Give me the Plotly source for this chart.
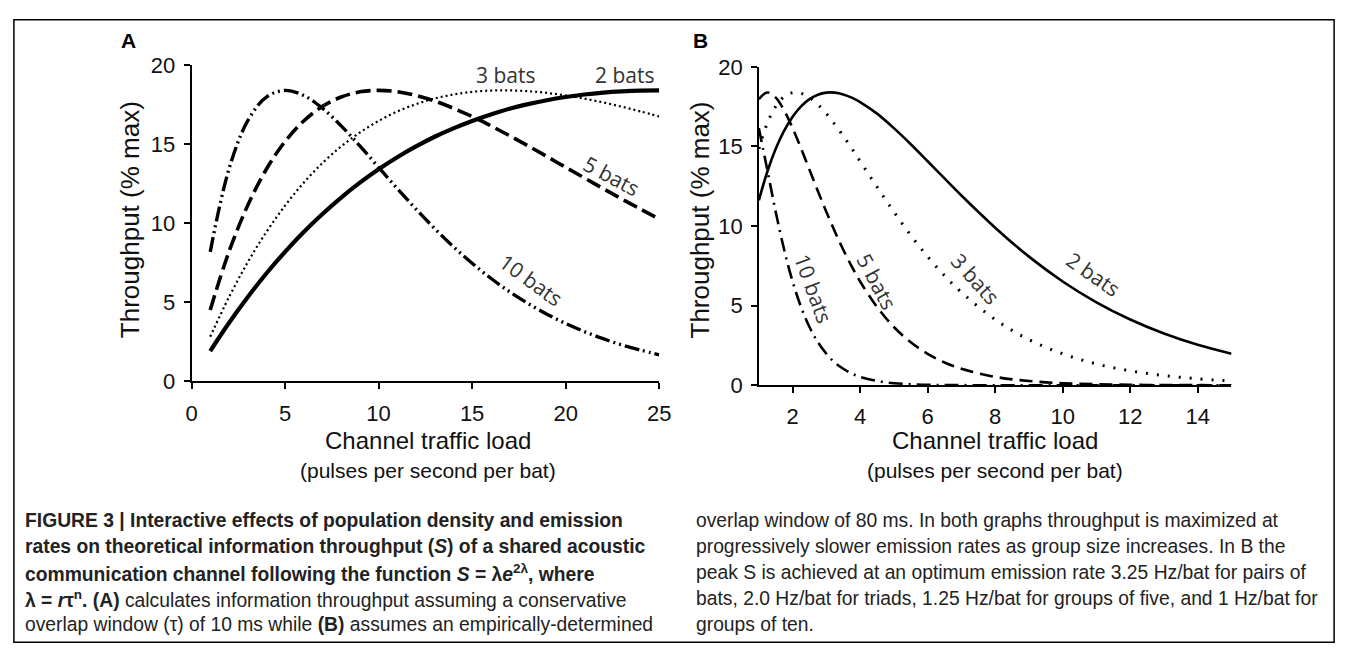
import plotly.graph_objects as go

W, H = 1354, 660

# ---------------- data ----------------
# Panel A: channel traffic load (pulses/s/bat) and throughput (% max)
load_a = [1, 2, 3, 4, 5, 6, 7, 8, 9, 10, 11, 12, 13, 14, 15, 16, 17, 18, 19, 20, 21, 22, 23, 24, 25]
a_2bats = [1.92, 3.69, 5.32, 6.82, 8.19, 9.44, 10.58, 11.62, 12.56, 13.41, 14.17, 14.85, 15.46,
           15.99, 16.46, 16.87, 17.23, 17.52, 17.77, 17.97, 18.13, 18.25, 18.33, 18.38, 18.39]
a_3bats = [2.83, 5.32, 7.52, 9.44, 11.11, 12.56, 13.80, 14.85, 15.73, 16.46, 17.06, 17.52, 17.88,
           18.13, 18.30, 18.38, 18.39, 18.34, 18.23, 18.07, 17.87, 17.63, 17.36, 17.06, 16.74]
a_5bats = [4.52, 8.19, 11.11, 13.41, 15.16, 16.46, 17.38, 17.97, 18.30, 18.39, 18.31, 18.07, 17.72,
           17.26, 16.74, 16.15, 15.53, 14.88, 14.21, 13.53, 12.86, 12.19, 11.53, 10.89, 10.26]
a_10bats = [8.19, 13.41, 16.46, 17.97, 18.39, 18.07, 17.26, 16.15, 14.88, 13.53, 12.19, 10.89, 9.66,
            8.51, 7.47, 6.52, 5.67, 4.92, 4.25, 3.66, 3.15, 2.70, 2.31, 1.98, 1.68]

# Panel B
load_b = [1, 1.25, 1.5, 1.75, 2, 2.25, 2.5, 2.75, 3, 3.25, 3.5, 3.75, 4, 4.5, 5, 5.5, 6, 6.5, 7,
          8, 9, 10, 11, 12, 13, 14, 15]
b_2bats = [11.62, 13.41, 14.85, 15.99, 16.87, 17.52, 17.97, 18.25, 18.38, 18.38, 18.27, 18.07, 17.79,
           17.06, 16.15, 15.14, 14.07, 12.99, 11.92, 9.90, 8.08, 6.52, 5.21, 4.13, 3.25, 2.54, 1.98]
b_3bats = [14.85, 16.46, 17.52, 18.13, 18.38, 18.34, 18.07, 17.63, 17.06, 16.39, 15.66, 14.88, 14.07,
           12.46, 10.89, 9.42, 8.08, 6.89, 5.84, 4.13, 2.87, 1.98, 1.34, 0.91, 0.61, 0.41, 0.27]
b_5bats = [17.97, 18.39, 18.07, 17.26, 16.15, 14.88, 13.53, 12.19, 10.89, 9.66, 8.51, 7.47, 6.52,
           4.92, 3.66, 2.70, 1.98, 1.43, 1.04, 0.53, 0.27, 0.13, 0.07, 0.03, 0.02, 0.01, 0.0]
b_10bats = [16.15, 13.53, 10.89, 8.51, 6.52, 4.92, 3.66, 2.70, 1.98, 1.43, 1.04, 0.74, 0.53,
            0.27, 0.13, 0.07, 0.03, 0.02, 0.01, 0.0, 0.0, 0.0, 0.0, 0.0, 0.0, 0.0, 0.0]

ticks_a = [0, 5, 10, 15, 20, 25]
ticks_b = [2, 4, 6, 8, 10, 12, 14]
ticks_y = [0, 5, 10, 15, 20]

y_title = "Throughput (% max)"
x_title = "Channel traffic load"
x_sub = "(pulses per second per bat)"

caption_left = [
    "<b>FIGURE 3 | Interactive effects of population density and emission</b>",
    "<b>rates on theoretical information throughput (<i>S</i>) of a shared acoustic</b>",
    "<b>communication channel following the function <i>S</i> = λ<i>e</i><sup>2λ</sup>, where</b>",
    "<b>λ = <i>r</i>τ<sup>n</sup>. (A)</b> calculates information throughput assuming a conservative",
    "overlap window (τ) of 10 ms while <b>(B)</b> assumes an empirically-determined",
]
caption_right = [
    "overlap window of 80 ms. In both graphs throughput is maximized at",
    "progressively slower emission rates as group size increases. In B the",
    "peak S is achieved at an optimum emission rate 3.25 Hz/bat for pairs of",
    "bats, 2.0 Hz/bat for triads, 1.25 Hz/bat for groups of five, and 1 Hz/bat for",
    "groups of ten.",
]

# ---------------- helpers ----------------
def px(x):
    return x / W

def py(y):
    return 1 - y / H

TICKFONT = dict(family="Liberation Sans, Arial, sans-serif", size=22, color="#111")
LABELFONT = dict(family="Open Sans, sans-serif", size=21, color="#333")

fig = go.Figure()

# Panel A traces
fig.add_trace(go.Scatter(x=load_a, y=a_2bats, mode="lines", line=dict(color="black", width=4.2, shape="spline"),
                         xaxis="x", yaxis="y", name="2 bats"))
fig.add_trace(go.Scatter(x=load_a, y=a_3bats, mode="lines",
                         line=dict(color="black", width=2.2, dash="2px,3px", shape="spline"),
                         xaxis="x", yaxis="y", name="3 bats"))
fig.add_trace(go.Scatter(x=load_a, y=a_5bats, mode="lines",
                         line=dict(color="black", width=3.6, dash="15px,6px", shape="spline"),
                         xaxis="x", yaxis="y", name="5 bats"))
fig.add_trace(go.Scatter(x=load_a, y=a_10bats, mode="lines",
                         line=dict(color="black", width=3.4, dash="15px,4px,2px,4px,2px,4px", shape="spline"),
                         xaxis="x", yaxis="y", name="10 bats"))

# Panel B traces
fig.add_trace(go.Scatter(x=load_b, y=b_2bats, mode="lines", line=dict(color="black", width=2.6, shape="spline"),
                         xaxis="x2", yaxis="y2", name="2 bats"))
fig.add_trace(go.Scatter(x=load_b, y=b_3bats, mode="lines",
                         line=dict(color="black", width=3, dash="2px,9px", shape="spline"),
                         xaxis="x2", yaxis="y2", name="3 bats"))
fig.add_trace(go.Scatter(x=load_b, y=b_5bats, mode="lines",
                         line=dict(color="black", width=2.6, dash="13px,7px", shape="spline"),
                         xaxis="x2", yaxis="y2", name="5 bats"))
fig.add_trace(go.Scatter(x=load_b, y=b_10bats, mode="lines",
                         line=dict(color="black", width=2.6, dash="14px,6px,2px,6px", shape="spline"),
                         xaxis="x2", yaxis="y2", name="10 bats"))

axis_common = dict(showgrid=False, zeroline=False, showline=True, linecolor="black", linewidth=1.6,
                   ticks="outside", ticklen=6, tickwidth=1.6, tickcolor="black", tickfont=TICKFONT)

fig.update_layout(
    width=W, height=H,
    margin=dict(l=0, r=0, t=0, b=0),
    paper_bgcolor="white", plot_bgcolor="white",
    showlegend=False,
    xaxis=dict(domain=[px(188), px(662)], range=[0, 25], tickvals=ticks_a, anchor="y",
               ticklabelstandoff=5, **axis_common),
    yaxis=dict(domain=[py(384), py(55)], range=[0, 20], tickvals=ticks_y, anchor="x",
               ticklabelstandoff=4, **axis_common),
    xaxis2=dict(domain=[px(763), px(1242)], range=[1, 15], tickvals=ticks_b, anchor="y2",
                ticklabelstandoff=4, **axis_common),
    yaxis2=dict(domain=[py(388), py(57)], range=[0, 20], tickvals=ticks_y, anchor="x2",
                ticklabelstandoff=4, **axis_common),
)

ann = []
def add_text(x, y, text, font, angle=0, xanchor="center", yanchor="middle"):
    ann.append(dict(x=px(x), y=py(y), xref="paper", yref="paper", text=text, showarrow=False,
                    font=font, textangle=angle, xanchor=xanchor, yanchor=yanchor))

PANELFONT = dict(family="Liberation Sans, Arial, sans-serif", size=21, color="black")
TITLEFONT = dict(family="Liberation Sans, Arial, sans-serif", size=24, color="#111")
YTITLEFONT = dict(family="Liberation Sans, Arial, sans-serif", size=26, color="#111")
SUBFONT = dict(family="Liberation Sans, Arial, sans-serif", size=21, color="#111")

add_text(124, 30, "<b>A</b>", PANELFONT)
add_text(704, 30, "<b>B</b>", PANELFONT)
add_text(125, 216, y_title, YTITLEFONT, angle=-90)
add_text(703, 216, y_title, YTITLEFONT, angle=-90)
add_text(428, 445, x_title, TITLEFONT)
add_text(428, 477, x_sub, SUBFONT)
add_text(1002, 445, x_title, TITLEFONT)
add_text(1002, 477, x_sub, SUBFONT)

# curve labels
add_text(506, 65, "3 bats", LABELFONT)
add_text(627, 65, "2 bats", LABELFONT)
add_text(614, 170, "5 bats", LABELFONT, angle=28)
add_text(532, 279, "10 bats", LABELFONT, angle=36)
add_text(818, 287, "10 bats", LABELFONT, angle=70)
add_text(882, 280, "5 bats", LABELFONT, angle=62)
add_text(983, 277, "3 bats", LABELFONT, angle=48)
add_text(1102, 272, "2 bats", LABELFONT, angle=35)

CAPFONT = dict(family="Liberation Sans Narrow, Arial Narrow, Liberation Sans, sans-serif", size=19.3, color="#222")
line_y = [529, 556, 583, 610, 637]
for yy, t in zip(line_y, caption_left):
    add_text(17, yy, t, CAPFONT, xanchor="left")
for yy, t in zip(line_y, caption_right):
    add_text(697, yy, t, CAPFONT, xanchor="left")

fig.update_layout(annotations=ann)

fig.add_shape(type="rect", xref="paper", yref="paper", x0=px(8), x1=px(1346), y0=py(655), y1=py(8),
              line=dict(color="black", width=1.5), fillcolor="rgba(0,0,0,0)")

fig.write_html("out.html", config={"displayModeBar": False},
               post_script="document.body.style.margin='0';document.body.style.overflow='hidden';")
